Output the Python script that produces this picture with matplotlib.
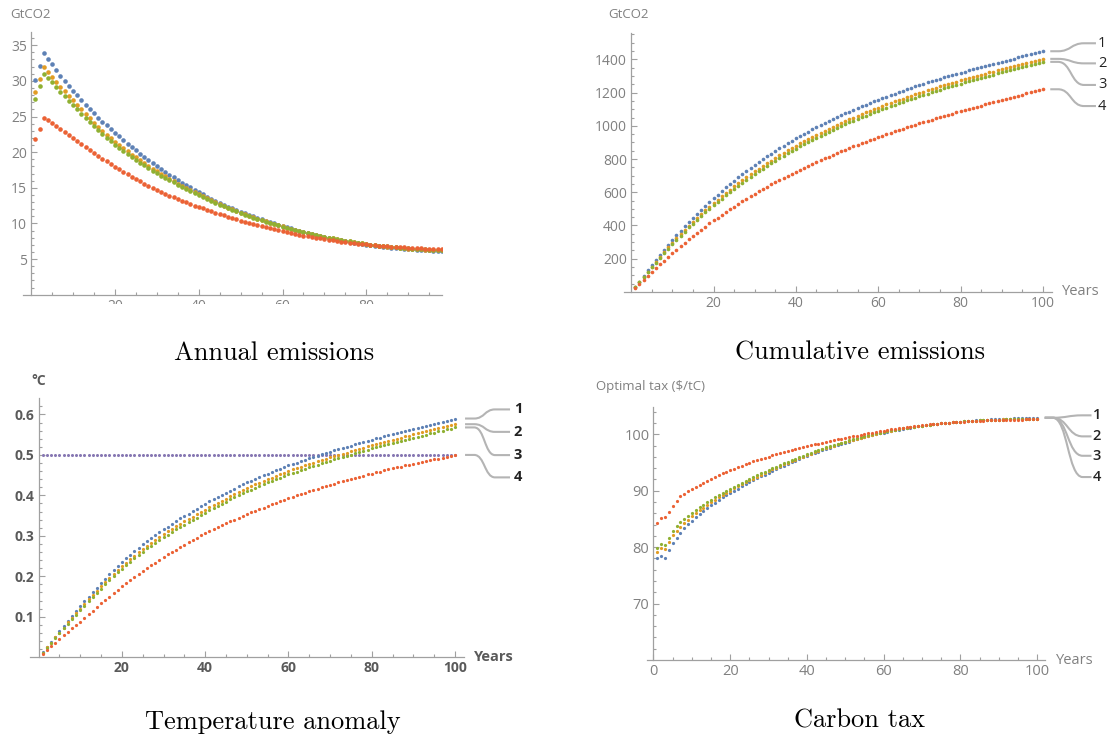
import matplotlib.pyplot as plt
from matplotlib.patches import Rectangle, PathPatch
from matplotlib.path import Path
from matplotlib.ticker import FixedLocator

# ---- data (years 1..100) ----
years = list(range(1, 101))

annual_1 = [30.1, 32.1, 33.9, 33.1, 32.3, 31.5, 30.75, 30.0, 29.3, 28.6,
            27.95, 27.3, 26.65, 26.05, 25.45, 24.85, 24.3, 23.75, 23.2, 22.7,
            22.2, 21.7, 21.2, 20.72, 20.25, 19.8, 19.35, 18.9, 18.47, 18.05,
            17.64, 17.24, 16.85, 16.47, 16.1, 15.74, 15.39, 15.05, 14.72, 14.4,
            14.08, 13.77, 13.47, 13.18, 12.9, 12.63, 12.37, 12.12, 11.88, 11.65,
            11.43, 11.21, 11.0, 10.8, 10.6, 10.41, 10.22, 10.03, 9.84, 9.66,
            9.48, 9.31, 9.14, 8.98, 8.82, 8.67, 8.52, 8.38, 8.24, 8.11,
            7.98, 7.86, 7.74, 7.63, 7.52, 7.42, 7.32, 7.22, 7.13, 7.04,
            6.96, 6.88, 6.81, 6.74, 6.67, 6.61, 6.55, 6.5, 6.45, 6.4,
            6.36, 6.32, 6.28, 6.25, 6.22, 6.19, 6.17, 6.15, 6.13, 6.11]
annual_2 = [28.4, 30.2, 32.0, 31.25, 30.55, 29.85, 29.2, 28.55, 27.9, 27.3,
            26.65, 26.0, 25.35, 24.75, 24.15, 23.55, 23.0, 22.45, 21.95, 21.45,
            20.99, 20.54, 20.1, 19.67, 19.25, 18.84, 18.44, 18.05, 17.67, 17.3,
            16.94, 16.59, 16.25, 15.92, 15.6, 15.29, 14.98, 14.68, 14.38, 14.09,
            13.8, 13.52, 13.24, 12.97, 12.71, 12.46, 12.21, 11.97, 11.74, 11.51,
            11.29, 11.08, 10.87, 10.67, 10.47, 10.28, 10.1, 9.92, 9.75, 9.58,
            9.41, 9.25, 9.09, 8.94, 8.79, 8.65, 8.51, 8.38, 8.25, 8.13,
            8.01, 7.89, 7.78, 7.67, 7.57, 7.47, 7.37, 7.28, 7.19, 7.1,
            7.02, 6.95, 6.88, 6.81, 6.75, 6.69, 6.63, 6.58, 6.53, 6.48,
            6.44, 6.4, 6.36, 6.33, 6.3, 6.27, 6.25, 6.23, 6.21, 6.19]
annual_3 = [27.5, 29.3, 30.95, 30.4, 29.8, 29.1, 28.5, 27.9, 27.2, 26.6,
            26.0, 25.4, 24.75, 24.2, 23.65, 23.1, 22.5, 22.0, 21.5, 21.0,
            20.56, 20.13, 19.71, 19.3, 18.9, 18.51, 18.13, 17.76, 17.4, 17.05,
            16.71, 16.38, 16.06, 15.75, 15.44, 15.14, 14.84, 14.55, 14.26, 13.98,
            13.7, 13.43, 13.16, 12.9, 12.65, 12.4, 12.16, 11.92, 11.69, 11.47,
            11.25, 11.04, 10.83, 10.63, 10.44, 10.25, 10.07, 9.89, 9.72, 9.55,
            9.39, 9.23, 9.08, 8.93, 8.78, 8.64, 8.51, 8.38, 8.26, 8.14,
            8.02, 7.91, 7.8, 7.69, 7.59, 7.49, 7.39, 7.3, 7.21, 7.12,
            7.04, 6.97, 6.9, 6.83, 6.77, 6.71, 6.65, 6.6, 6.55, 6.5,
            6.46, 6.42, 6.38, 6.35, 6.32, 6.29, 6.27, 6.25, 6.23, 6.21]
annual_4 = [21.8, 23.3, 24.85, 24.45, 24.05, 23.65, 23.2, 22.8, 22.4, 21.95,
            21.53, 21.12, 20.71, 20.3, 19.9, 19.5, 19.1, 18.71, 18.33, 17.95,
            17.59, 17.24, 16.89, 16.56, 16.23, 15.91, 15.6, 15.3, 15.0, 14.72,
            14.44, 14.17, 13.91, 13.65, 13.41, 13.17, 12.94, 12.72, 12.51, 12.31,
            12.11, 11.91, 11.71, 11.52, 11.33, 11.14, 10.95, 10.76, 10.58, 10.4,
            10.23, 10.06, 9.9, 9.74, 9.59, 9.44, 9.3, 9.16, 9.03, 8.9,
            8.77, 8.65, 8.53, 8.41, 8.3, 8.19, 8.09, 7.99, 7.89, 7.8,
            7.71, 7.62, 7.54, 7.46, 7.38, 7.31, 7.24, 7.17, 7.11, 7.05,
            6.99, 6.94, 6.89, 6.84, 6.79, 6.75, 6.71, 6.67, 6.63, 6.59,
            6.56, 6.53, 6.5, 6.47, 6.45, 6.43, 6.41, 6.39, 6.38, 6.37]

cumul_1 = [30, 62, 96, 129, 162, 193, 224, 254, 283, 312, 340, 367, 394, 420, 445,
           470, 494, 518, 541, 564, 586, 608, 629, 650, 670, 690, 709, 728, 746, 764,
           782, 799, 816, 833, 849, 865, 880, 895, 910, 924, 938, 952, 965, 979, 991,
           1004, 1016, 1029, 1040, 1052, 1064, 1075, 1086, 1097, 1107, 1118, 1128, 1138, 1148, 1157,
           1167, 1176, 1185, 1194, 1203, 1212, 1220, 1229, 1237, 1245, 1253, 1261, 1269, 1276, 1284,
           1291, 1298, 1306, 1313, 1320, 1327, 1334, 1340, 1347, 1354, 1361, 1367, 1374, 1380, 1386,
           1393, 1399, 1405, 1412, 1418, 1424, 1430, 1436, 1442, 1449]
cumul_2 = [28, 59, 91, 122, 152, 182, 211, 240, 268, 295, 322, 348, 373, 398, 422,
           446, 469, 491, 513, 535, 555, 576, 596, 616, 635, 654, 672, 690, 708, 725,
           742, 759, 775, 791, 807, 822, 837, 852, 866, 880, 894, 907, 921, 934, 946,
           959, 971, 983, 995, 1006, 1017, 1029, 1039, 1050, 1061, 1071, 1081, 1091, 1101, 1110,
           1120, 1129, 1138, 1147, 1156, 1164, 1173, 1181, 1189, 1198, 1206, 1214, 1221, 1229, 1237,
           1244, 1251, 1259, 1266, 1273, 1280, 1287, 1294, 1301, 1307, 1314, 1321, 1327, 1334, 1340,
           1347, 1353, 1359, 1366, 1372, 1378, 1385, 1391, 1397, 1403]
cumul_3 = [28, 57, 88, 118, 148, 177, 206, 233, 261, 287, 313, 339, 363, 388, 411,
           434, 457, 479, 500, 521, 542, 562, 582, 601, 620, 638, 657, 674, 692, 709,
           726, 742, 758, 774, 789, 804, 819, 834, 848, 862, 876, 889, 902, 915, 928,
           940, 952, 964, 976, 987, 999, 1010, 1021, 1031, 1042, 1052, 1062, 1072, 1082, 1091,
           1100, 1110, 1119, 1128, 1136, 1145, 1154, 1162, 1170, 1178, 1186, 1194, 1202, 1210, 1217,
           1225, 1232, 1240, 1247, 1254, 1261, 1268, 1275, 1282, 1288, 1295, 1302, 1308, 1315, 1321,
           1328, 1334, 1341, 1347, 1353, 1360, 1366, 1372, 1378, 1385]
cumul_4 = [22, 45, 70, 94, 118, 142, 165, 188, 211, 232, 254, 275, 296, 316, 336,
           356, 375, 393, 412, 430, 447, 464, 481, 498, 514, 530, 546, 561, 576, 591,
           605, 619, 633, 647, 660, 673, 686, 699, 712, 724, 736, 748, 760, 771, 782,
           794, 805, 815, 826, 836, 847, 857, 866, 876, 886, 895, 905, 914, 923, 932,
           940, 949, 958, 966, 974, 982, 991, 999, 1006, 1014, 1022, 1030, 1037, 1045, 1052,
           1059, 1067, 1074, 1081, 1088, 1095, 1102, 1109, 1116, 1122, 1129, 1136, 1142, 1149, 1156,
           1162, 1169, 1175, 1182, 1188, 1195, 1201, 1207, 1214, 1220]

temp_1 = [0.012, 0.025, 0.038, 0.051, 0.064, 0.077, 0.090, 0.102, 0.114, 0.126,
          0.138, 0.150, 0.161, 0.172, 0.183, 0.194, 0.205, 0.215, 0.225, 0.235,
          0.244, 0.253, 0.262, 0.271, 0.279, 0.287, 0.295, 0.302, 0.309, 0.316,
          0.323, 0.330, 0.337, 0.343, 0.349, 0.355, 0.361, 0.367, 0.373, 0.379,
          0.385, 0.390, 0.396, 0.401, 0.406, 0.412, 0.417, 0.422, 0.427, 0.432,
          0.436, 0.441, 0.445, 0.450, 0.454, 0.458, 0.462, 0.466, 0.470, 0.474,
          0.478, 0.481, 0.485, 0.488, 0.492, 0.495, 0.498, 0.502, 0.505, 0.508,
          0.511, 0.514, 0.517, 0.520, 0.523, 0.526, 0.529, 0.532, 0.535, 0.538,
          0.541, 0.543, 0.546, 0.549, 0.552, 0.554, 0.557, 0.560, 0.562, 0.565,
          0.567, 0.570, 0.572, 0.575, 0.577, 0.580, 0.582, 0.585, 0.587, 0.590]
temp_2 = [0.011, 0.024, 0.036, 0.049, 0.061, 0.073, 0.086, 0.097, 0.109, 0.120,
          0.132, 0.143, 0.154, 0.164, 0.175, 0.185, 0.196, 0.205, 0.215, 0.225,
          0.234, 0.243, 0.251, 0.260, 0.268, 0.276, 0.283, 0.290, 0.297, 0.304,
          0.311, 0.317, 0.324, 0.330, 0.336, 0.342, 0.347, 0.353, 0.359, 0.365,
          0.371, 0.376, 0.382, 0.387, 0.392, 0.398, 0.403, 0.408, 0.413, 0.418,
          0.422, 0.427, 0.431, 0.436, 0.440, 0.444, 0.448, 0.452, 0.456, 0.460,
          0.464, 0.467, 0.471, 0.474, 0.478, 0.481, 0.484, 0.488, 0.491, 0.494,
          0.497, 0.500, 0.503, 0.506, 0.509, 0.512, 0.515, 0.518, 0.521, 0.524,
          0.527, 0.529, 0.532, 0.535, 0.538, 0.540, 0.543, 0.546, 0.548, 0.551,
          0.553, 0.556, 0.558, 0.561, 0.563, 0.566, 0.568, 0.571, 0.573, 0.576]
temp_3 = [0.011, 0.023, 0.035, 0.047, 0.059, 0.071, 0.083, 0.094, 0.105, 0.116,
          0.127, 0.138, 0.148, 0.159, 0.169, 0.180, 0.190, 0.200, 0.210, 0.219,
          0.228, 0.236, 0.245, 0.253, 0.261, 0.269, 0.276, 0.283, 0.290, 0.296,
          0.303, 0.310, 0.316, 0.322, 0.328, 0.334, 0.339, 0.345, 0.351, 0.357,
          0.363, 0.368, 0.374, 0.379, 0.384, 0.390, 0.395, 0.400, 0.405, 0.410,
          0.414, 0.419, 0.423, 0.428, 0.432, 0.436, 0.440, 0.444, 0.448, 0.452,
          0.456, 0.459, 0.463, 0.466, 0.470, 0.473, 0.476, 0.480, 0.483, 0.486,
          0.489, 0.492, 0.495, 0.498, 0.501, 0.504, 0.507, 0.510, 0.513, 0.516,
          0.519, 0.521, 0.524, 0.527, 0.530, 0.532, 0.535, 0.538, 0.540, 0.543,
          0.545, 0.548, 0.550, 0.553, 0.555, 0.558, 0.560, 0.563, 0.565, 0.568]
temp_4 = [0.009, 0.018, 0.027, 0.036, 0.045, 0.054, 0.062, 0.071, 0.080, 0.088,
          0.097, 0.106, 0.115, 0.124, 0.133, 0.141, 0.150, 0.158, 0.167, 0.175,
          0.183, 0.191, 0.198, 0.206, 0.213, 0.220, 0.227, 0.234, 0.241, 0.248,
          0.254, 0.260, 0.266, 0.272, 0.278, 0.284, 0.290, 0.295, 0.301, 0.306,
          0.311, 0.316, 0.321, 0.326, 0.331, 0.336, 0.340, 0.345, 0.349, 0.354,
          0.358, 0.362, 0.366, 0.370, 0.374, 0.378, 0.382, 0.386, 0.389, 0.393,
          0.396, 0.400, 0.403, 0.407, 0.410, 0.413, 0.416, 0.420, 0.423, 0.426,
          0.429, 0.432, 0.435, 0.438, 0.441, 0.443, 0.446, 0.449, 0.452, 0.454,
          0.457, 0.459, 0.462, 0.464, 0.467, 0.469, 0.471, 0.474, 0.476, 0.478,
          0.480, 0.482, 0.485, 0.487, 0.489, 0.491, 0.493, 0.495, 0.497, 0.499]
temp_target = 0.5

tax_1 = [78.0, 78.35, 78.1, 79.5, 80.8, 81.7, 82.6, 83.35, 84.05, 84.7,
         85.3, 85.87, 86.41, 86.93, 87.43, 87.91, 88.37, 88.81, 89.23, 89.63,
         90.02, 90.4, 90.77, 91.13, 91.49, 91.84, 92.19, 92.53, 92.86, 93.19,
         93.51, 93.83, 94.14, 94.45, 94.75, 95.05, 95.34, 95.63, 95.91, 96.19,
         96.45, 96.7, 96.95, 97.19, 97.42, 97.65, 97.87, 98.09, 98.3, 98.51,
         98.71, 98.91, 99.1, 99.29, 99.47, 99.65, 99.82, 99.99, 100.15, 100.31,
         100.45, 100.59, 100.72, 100.85, 100.97, 101.09, 101.2, 101.31, 101.41, 101.51,
         101.6, 101.69, 101.78, 101.86, 101.94, 102.01, 102.08, 102.15, 102.21, 102.27,
         102.33, 102.38, 102.43, 102.48, 102.53, 102.57, 102.61, 102.65, 102.68, 102.72,
         102.75, 102.78, 102.8, 102.83, 102.85, 102.87, 102.89, 102.91, 102.93, 102.94]
tax_2 = [79.2, 79.8, 79.7, 81.0, 82.1, 82.9, 83.65, 84.3, 84.9, 85.47,
         86.02, 86.54, 87.03, 87.51, 87.97, 88.42, 88.85, 89.26, 89.65, 90.03,
         90.41, 90.77, 91.13, 91.48, 91.82, 92.16, 92.5, 92.82, 93.14, 93.46,
         93.77, 94.07, 94.37, 94.67, 94.95, 95.24, 95.52, 95.8, 96.07, 96.34,
         96.59, 96.84, 97.09, 97.32, 97.55, 97.78, 98.0, 98.21, 98.42, 98.63,
         98.83, 99.02, 99.21, 99.4, 99.58, 99.75, 99.92, 100.09, 100.25, 100.41,
         100.55, 100.68, 100.81, 100.93, 101.05, 101.16, 101.27, 101.37, 101.47, 101.56,
         101.64, 101.73, 101.81, 101.89, 101.96, 102.03, 102.09, 102.15, 102.21, 102.27,
         102.32, 102.36, 102.4, 102.44, 102.48, 102.51, 102.54, 102.57, 102.59, 102.62,
         102.64, 102.66, 102.67, 102.69, 102.7, 102.71, 102.72, 102.73, 102.74, 102.74]
tax_3 = [79.9, 80.6, 80.4, 81.7, 82.8, 83.7, 84.4, 85.0, 85.55, 86.05,
         86.55, 87.04, 87.51, 87.96, 88.4, 88.82, 89.23, 89.63, 90.01, 90.38,
         90.74, 91.1, 91.45, 91.78, 92.12, 92.45, 92.77, 93.09, 93.39, 93.7,
         94.0, 94.29, 94.58, 94.87, 95.15, 95.43, 95.7, 95.97, 96.23, 96.49,
         96.74, 96.98, 97.22, 97.45, 97.67, 97.89, 98.1, 98.31, 98.51, 98.71,
         98.91, 99.1, 99.28, 99.47, 99.64, 99.82, 99.98, 100.15, 100.3, 100.46,
         100.59, 100.72, 100.84, 100.96, 101.07, 101.18, 101.28, 101.38, 101.47, 101.56,
         101.64, 101.72, 101.8, 101.88, 101.95, 102.02, 102.08, 102.15, 102.21, 102.27,
         102.32, 102.36, 102.4, 102.44, 102.47, 102.5, 102.53, 102.56, 102.58, 102.61,
         102.63, 102.65, 102.66, 102.68, 102.69, 102.7, 102.71, 102.72, 102.73, 102.73]
tax_4 = [84.3, 85.1, 85.3, 86.3, 87.3, 88.2, 89.0, 89.5, 89.9, 90.25,
         90.65, 91.05, 91.45, 91.8, 92.15, 92.5, 92.8, 93.1, 93.4, 93.67,
         93.94, 94.2, 94.46, 94.71, 94.95, 95.19, 95.42, 95.64, 95.86, 96.07,
         96.27, 96.47, 96.66, 96.85, 97.03, 97.21, 97.38, 97.55, 97.72, 97.88,
         98.04, 98.2, 98.36, 98.51, 98.66, 98.81, 98.96, 99.1, 99.24, 99.38,
         99.52, 99.66, 99.79, 99.92, 100.05, 100.18, 100.3, 100.42, 100.54, 100.66,
         100.77, 100.88, 100.98, 101.08, 101.18, 101.27, 101.36, 101.45, 101.53, 101.61,
         101.69, 101.76, 101.83, 101.9, 101.96, 102.02, 102.08, 102.13, 102.18, 102.23,
         102.27, 102.31, 102.35, 102.39, 102.42, 102.45, 102.48, 102.51, 102.53, 102.55,
         102.57, 102.59, 102.6, 102.61, 102.62, 102.63, 102.64, 102.64, 102.65, 102.65]

series_names = ['1', '2', '3', '4']
colors = ['#5E81B5', '#E19C24', '#8FB032', '#EB6235']
target_color = '#8778B3'

# ---- figure ----
W, H = 1117, 740
fig = plt.figure(figsize=(W / 100, H / 100), dpi=100)
plt.rcParams['font.family'] = ['Open Sans', 'DejaVu Sans']

AXIS_GRAY = '#a0a0a0'


def px_axes(left, top, right, bottom):
    return fig.add_axes([left / W, 1 - bottom / H, (right - left) / W, (bottom - top) / H])


def style(ax, xlim, ylim, xt, yt, xlabels, ylabels, xminor, yminor,
          labelcolor='#808080', weight='normal', size=9.5):
    ax.set_xlim(*xlim)
    ax.set_ylim(*ylim)
    ax.patch.set_alpha(0)
    ax.spines['top'].set_visible(False)
    ax.spines['right'].set_visible(False)
    ax.spines['left'].set_position(('data', 0))
    for s in ('left', 'bottom'):
        ax.spines[s].set_color(AXIS_GRAY)
        ax.spines[s].set_linewidth(0.9)
    ax.set_xticks(xt, xlabels, fontsize=size, color=labelcolor, fontweight=weight)
    ax.set_yticks(yt, ylabels, fontsize=size, color=labelcolor, fontweight=weight)
    ax.xaxis.set_minor_locator(FixedLocator(xminor))
    ax.yaxis.set_minor_locator(FixedLocator(yminor))
    ax.tick_params(which='both', direction='in', color=AXIS_GRAY, width=0.8)
    ax.tick_params(which='major', length=4, pad=3)
    ax.tick_params(which='minor', length=2.3)


def callout(ax, x0, y0, x1, x2, x3, xt, yl, text, weight):
    xm = (x1 + x2) / 2
    verts = [(x0, y0), (x1, y0), (xm, y0), (xm, yl), (x2, yl), (x3, yl)]
    codes = [Path.MOVETO, Path.LINETO, Path.CURVE4, Path.CURVE4, Path.CURVE4, Path.LINETO]
    ax.add_patch(PathPatch(Path(verts, codes), fill=False, edgecolor='#b4b4b4',
                           lw=1.5, clip_on=False))
    ax.text(xt, yl, text, ha='center', va='center', fontsize=10.5,
            color='#222222', fontweight=weight, clip_on=False)


def dots(ax, ys_list, ms):
    for ys, c in zip(ys_list, colors):
        ax.plot(years, ys, ls='none', marker='o', ms=ms, mew=0, color=c)


minor_x = [v for v in range(5, 101, 5) if v % 20]

# Annual emissions
ax1 = px_axes(22.6, 31.7, 441.7, 294.7)
dots(ax1, [annual_1, annual_2, annual_3, annual_4], 3.3)
style(ax1, (-2.04, 98.0), (0, 36.9), [20, 40, 60, 80], [5, 10, 15, 20, 25, 30, 35],
      ['20', '40', '60', '80'], ['5', '10', '15', '20', '25', '30', '35'],
      minor_x, [v for v in range(1, 37) if v % 5], size=10)
fig.text(10 / W, 1 - 15 / H, 'GtCO2', fontsize=9.5, color='#808080', va='center')

# Cumulative emissions
ax2 = px_axes(624, 33.3, 1051.5, 291.9)
dots(ax2, [cumul_1, cumul_2, cumul_3, cumul_4], 2.6)
style(ax2, (-1.75, 102.1), (0, 1557), [20, 40, 60, 80, 100],
      [200, 400, 600, 800, 1000, 1200, 1400],
      ['20', '40', '60', '80', '100'],
      ['200', '400', '600', '800', '1000', '1200', '1400'],
      minor_x, [v for v in range(50, 1551, 50) if v % 200], size=10)
fig.text(608.7 / W, 1 - 15 / H, 'GtCO2', fontsize=9.5, color='#808080', va='center')
ax2.text(109.2, 0, 'Years', fontsize=10.5, color='#808080', ha='center', va='center',
         clip_on=False)
for name, y0, yl in zip(series_names, [cumul_1[-1], cumul_2[-1], cumul_3[-1], cumul_4[-1]],
                        [1497, 1376, 1246, 1119]):
    callout(ax2, 101.8, y0, 103.7, 110.0, 112.9, 114.4, yl, name, 'normal')

# Temperature anomaly
ax3 = px_axes(30.2, 398.3, 463.8, 657.2)
ax3.plot(years, [temp_target] * len(years), ls='none', marker='o', ms=2.2, mew=0,
         color=target_color)
dots(ax3, [temp_1, temp_2, temp_3, temp_4], 2.3)
style(ax3, (-2.03, 102.1), (0, 0.64), [20, 40, 60, 80, 100],
      [0.1, 0.2, 0.3, 0.4, 0.5, 0.6],
      ['20', '40', '60', '80', '100'], ['0.1', '0.2', '0.3', '0.4', '0.5', '0.6'],
      minor_x, [v / 100 for v in range(2, 64, 2) if v % 10],
      labelcolor='#5a5a5a', weight='bold', size=10)
fig.text(31 / W, 1 - 381 / H, '°C', fontsize=10, color='#5a5a5a', va='center',
         fontweight='bold')
ax3.text(109.4, 0, 'Years', fontsize=10.5, color='#5a5a5a', ha='center', va='center',
         clip_on=False, fontweight='bold')
for name, y0, yl in zip(series_names, [temp_1[-1], temp_2[-1], temp_3[-1], temp_target],
                        [0.6125, 0.557, 0.4996, 0.4445]):
    callout(ax3, 102.4, y0, 104.6, 109.6, 113.2, 115.1, yl, name, 'bold')

# Carbon tax
ax4 = px_axes(646.7, 406.7, 1045.1, 660)
dots(ax4, [tax_1, tax_2, tax_3, tax_4], 2.3)
style(ax4, (-1.77, 102.1), (60, 104.9), [0, 20, 40, 60, 80, 100], [70, 80, 90, 100],
      ['0', '20', '40', '60', '80', '100'], ['70', '80', '90', '100'],
      minor_x, [v for v in range(62, 105, 2) if v % 10], size=10.5)
fig.text(596.4 / W, 1 - 386.7 / H, 'Optimal tax ($/tC)', fontsize=9.5, color='#808080',
         va='center')
ax4.text(109.8, 60, 'Years', fontsize=10.5, color='#808080', ha='center', va='center',
         clip_on=False)
for name, yl in zip(series_names, [103.37, 99.64, 96.2, 92.43]):
    callout(ax4, 102.0, tax_1[-1], 104.1, 111.9, 114.2, 115.6, yl, name, 'semibold')

# the first panel is cropped through its tick labels
fig.add_artist(Rectangle((0, 1 - 335 / H), 450 / W, 31 / H, transform=fig.transFigure,
                         facecolor='white', edgecolor='none', zorder=10))

# captions
cap = dict(fontsize=19, family='cmr10', ha='center', va='baseline', color='black')
fig.text(274 / W, 1 - 360 / H, 'Annual emissions', **cap)
fig.text(860 / W, 1 - 359 / H, 'Cumulative emissions', **cap)
fig.text(273 / W, 1 - 729 / H, 'Temperature anomaly', **cap)
fig.text(860 / W, 1 - 727 / H, 'Carbon tax', **cap)

fig.savefig('out.png', dpi=100)
